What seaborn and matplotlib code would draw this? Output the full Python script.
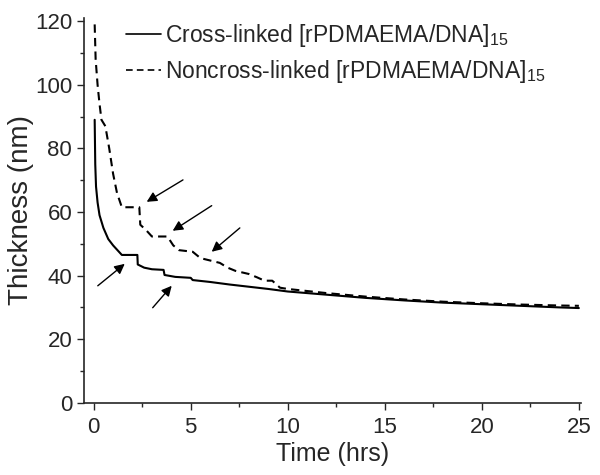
import numpy as np
import pandas as pd
import seaborn as sns
import matplotlib.pyplot as plt
from matplotlib.ticker import MultipleLocator

# cross-linked film thickness vs time
t_cross = [0.05, 0.08, 0.12, 0.2, 0.3, 0.5, 0.75, 1.0, 1.3, 1.45, 2.25, 2.27, 2.6, 3.0, 3.6, 3.65,
           4.2, 5.0, 5.1, 6, 7, 8, 9, 10, 12, 14, 16, 18, 20, 22, 24, 25]
h_cross = [89, 75, 68, 63, 59, 55, 51.5, 49.5, 47.5, 46.5, 46.5, 43.5, 42.5, 42, 41.8, 40.2,
           39.6, 39.3, 38.6, 38, 37.2, 36.5, 35.8, 35, 34, 33, 32.2, 31.5, 31, 30.5, 30, 29.8]

# noncross-linked film thickness vs time
t_non = [0.05, 0.1, 0.2, 0.3, 0.4, 0.6, 0.8, 1.0, 1.2, 1.45, 2.35, 2.4, 2.7, 3.0, 3.8, 4.1, 4.4,
         5.1, 5.5, 6.5, 6.9, 7.3, 8.0, 8.4, 8.8, 9.2, 9.6, 10, 12, 14, 16, 18, 20, 22, 24, 25]
h_non = [119, 108, 100, 94, 89, 87, 80, 72, 66, 61.5, 61.5, 56, 54.3, 52.3, 52.3, 49.5, 48,
         47.5, 45.5, 44, 42.5, 41.5, 40.5, 39.5, 38.4, 38.4, 36.2, 35.8, 34.5, 33.4, 32.5, 31.8,
         31.3, 30.9, 30.6, 30.5]

labels = ['Cross-linked [rPDMAEMA/DNA]$_{15}$', 'Noncross-linked [rPDMAEMA/DNA]$_{15}$']

# arrows (tail x, tail y, head x, head y)
arrows = [(4.6, 70.1, 2.73, 63.2), (6.08, 62.0, 4.07, 54.1), (7.53, 55.0, 6.08, 47.5),
          (0.21, 36.8, 1.6, 43.7), (3.04, 29.9, 4.02, 36.8)]

df = pd.concat([
    pd.DataFrame({'t': t_cross, 'h': h_cross, 'film': labels[0]}),
    pd.DataFrame({'t': t_non, 'h': h_non, 'film': labels[1]}),
])

sns.set_style("ticks")
plt.rcParams['font.family'] = ['Liberation Sans', 'DejaVu Sans']
plt.rcParams['mathtext.fontset'] = 'custom'
plt.rcParams['mathtext.rm'] = 'Liberation Sans'

fig = plt.figure(figsize=(6, 4.75), dpi=100)
ax = fig.add_axes([0.14, 0.152, 0.828, 0.81])

sns.lineplot(data=df, x='t', y='h', hue='film', style='film', sort=False,
             palette=['black', 'black'], dashes=[(None, None), (4, 2.5)],
             linewidth=1.5, ax=ax)

for x0, y0, x1, y1 in arrows:
    ax.annotate('', xy=(x1, y1), xytext=(x0, y0),
                arrowprops=dict(arrowstyle='-|>', color='black', lw=1, mutation_scale=15,
                                shrinkA=0, shrinkB=0))

ax.set_xlim(-0.5, 25.1)
ax.set_ylim(0, 121)
ax.xaxis.set_major_locator(MultipleLocator(5))
ax.xaxis.set_minor_locator(MultipleLocator(2.5))
ax.yaxis.set_major_locator(MultipleLocator(20))
ax.yaxis.set_minor_locator(MultipleLocator(10))
ax.tick_params(which='both', direction='out', labelsize=16, width=1)
ax.tick_params(which='major', length=5)
ax.tick_params(which='minor', length=3)
ax.tick_params(axis='x', pad=5)
sns.despine(ax=ax)
for s in ax.spines.values():
    s.set_linewidth(1.2)

ax.set_xlabel('Time (hrs)', fontsize=18, labelpad=3)
ax.set_ylabel('Thickness (nm)', fontsize=20, labelpad=1)

leg = ax.legend(loc='upper left', bbox_to_anchor=(0.085, 0.99), frameon=False, fontsize=16.5,
                handlelength=1.5, handletextpad=0.2, labelspacing=0.4,
                borderpad=0, borderaxespad=0)
for line in leg.get_lines():
    line.set_linewidth(1.2)

fig.savefig('out.png', dpi=100)
